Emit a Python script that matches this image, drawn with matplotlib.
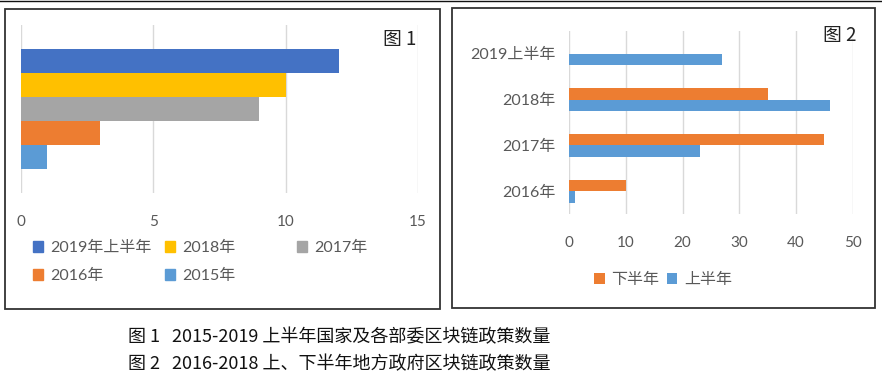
import matplotlib
matplotlib.use('Agg')
import matplotlib.pyplot as plt
import numpy as np
from matplotlib.patches import Rectangle, Patch
from matplotlib.lines import Line2D

plt.rcParams['font.family'] = ['Lato', 'Noto Sans CJK SC', 'DejaVu Sans']

# data, fig 1
years1 = ['2019年上半年', '2018年', '2017年', '2016年', '2015年']
counts1 = [12, 10, 9, 3, 1]
colors1 = ['#4472C4', '#FFC000', '#A5A5A5', '#ED7D31', '#5B9BD5']

# data, fig 2
cats2 = ['2016年', '2017年', '2018年', '2019上半年']
second_half = [10, 45, 35, 0]
first_half = [1, 23, 46, 27]

W, H = 882, 383
fig = plt.figure(figsize=(W / 100, H / 100), dpi=100)

def fx(px):
    return px / W

def fy(py):
    return 1 - py / H

tick_col = '#595959'
grid_col = '#d9d9d9'

# ---- figure 1
ax1 = fig.add_axes([fx(21), fy(193), fx(418 - 21), (193 - 25) / H])
bh = 0.144
for i, (lab, v, c) in enumerate(zip(years1, counts1, colors1)):
    ax1.barh((2 - i) * bh, v, height=bh, color=c, label=lab, zorder=2)
ax1.set_xlim(0, 15)
ax1.set_ylim(-0.5, 0.5)
ax1.set_xticks([0, 5, 10, 15])
ax1.set_yticks([])
ax1.grid(axis='x', color=grid_col, lw=1, zorder=0)
ax1.tick_params(axis='x', length=0, pad=16, labelsize=11, labelcolor=tick_col)
for s in ax1.spines.values():
    s.set_visible(False)
ax1.text(fx(400), fy(40), '图 1', transform=fig.transFigure, ha='center', va='center',
         fontsize=13.5, color='#222222', family=['Noto Sans CJK SC'])

# legend of fig 1, one legend per column
handles = {lab: Patch(color=c) for lab, c in zip(years1, colors1)}
columns = [(33, ['2019年上半年', '2016年']), (165, ['2018年', '2015年']), (297, ['2017年'])]
for x0, labs in columns:
    fig.legend([handles[l] for l in labs], labs, loc='upper left',
               bbox_to_anchor=(fx(x0), fy(241)), bbox_transform=fig.transFigure,
               frameon=False, borderpad=0, handlelength=0.65, handleheight=0.65,
               handletextpad=0.45, labelspacing=0.85, fontsize=11.5,
               labelcolor=tick_col, borderaxespad=0)

# ---- figure 2
ax2 = fig.add_axes([fx(569.3), fy(214), fx(852.7 - 569.3), (214 - 31) / H])
y = np.arange(len(cats2))
ax2.barh(y + 0.125, second_half, height=0.25, color='#ED7D31', label='下半年', zorder=2)
ax2.barh(y - 0.125, first_half, height=0.25, color='#5B9BD5', label='上半年', zorder=2)
ax2.set_xlim(0, 50)
ax2.set_ylim(-0.5, len(cats2) - 0.5)
ax2.set_xticks(range(0, 51, 10))
ax2.set_yticks(y)
ax2.set_yticklabels(cats2)
ax2.grid(axis='x', color=grid_col, lw=1, zorder=0)
ax2.tick_params(axis='x', length=0, pad=16, labelsize=11, labelcolor=tick_col)
ax2.tick_params(axis='y', length=0, pad=10, labelsize=11.5, labelcolor=tick_col)
for s in ax2.spines.values():
    s.set_visible(False)
ax2.text(fx(840), fy(35), '图 2', transform=fig.transFigure, ha='center', va='center',
         fontsize=13.5, color='#222222', family=['Noto Sans CJK SC'])
ax2.legend(loc='center', bbox_to_anchor=(fx(663), fy(280)), bbox_transform=fig.transFigure,
           ncol=2, frameon=False, borderpad=0, handlelength=0.65, handleheight=0.65,
           handletextpad=0.4, columnspacing=0.5, fontsize=11.5, labelcolor=tick_col)

# panel frames
fig.add_artist(Rectangle((fx(4.5), fy(309)), fx(440 - 4.5), (309 - 9) / H, transform=fig.transFigure,
                         fill=False, edgecolor='#333333', lw=1.3))
fig.add_artist(Rectangle((fx(452), fy(308)), fx(875 - 452), (308 - 8) / H, transform=fig.transFigure,
                         fill=False, edgecolor='#333333', lw=1.3))
fig.add_artist(Line2D([0, 1], [fy(0.6), fy(0.6)], transform=fig.transFigure, color='#111111', lw=1))

# captions
cap_font = ['Noto Sans CJK SC']
fig.text(fx(128), fy(337), '图 1   2015-2019 上半年国家及各部委区块链政策数量', ha='left', va='center',
         fontsize=13, color='#111111', family=cap_font)
fig.text(fx(128), fy(364), '图 2   2016-2018 上、下半年地方政府区块链政策数量', ha='left', va='center',
         fontsize=13, color='#111111', family=cap_font)

fig.savefig('out.png', dpi=100)
